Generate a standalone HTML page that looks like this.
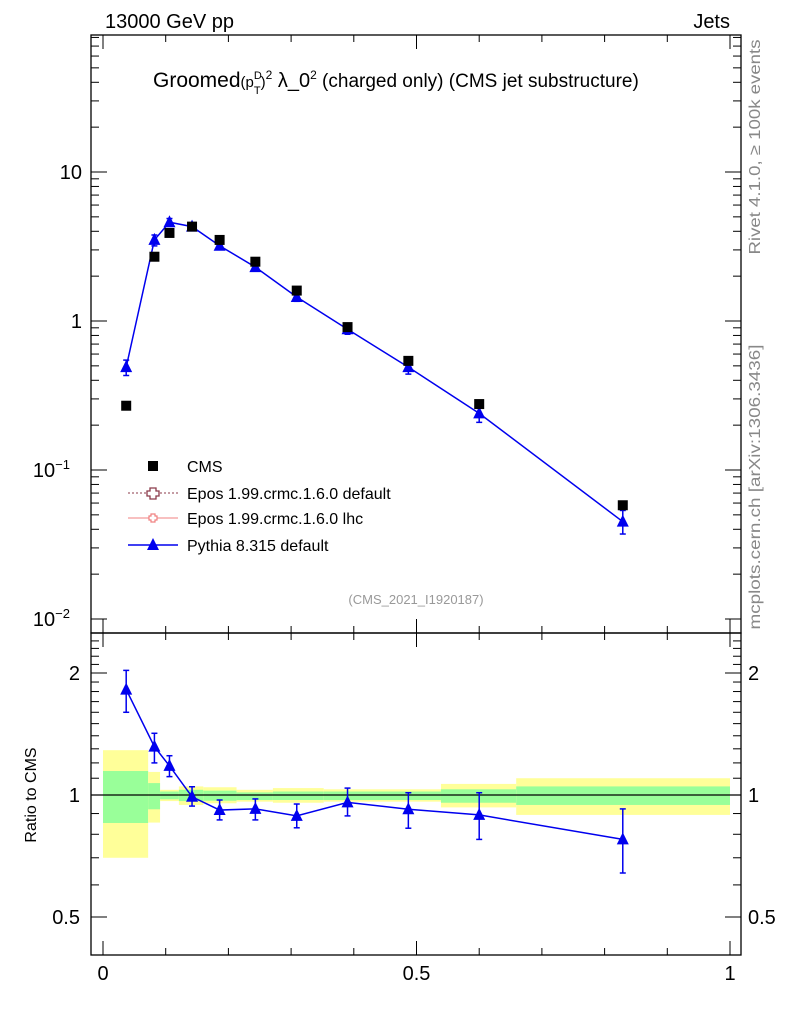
<!DOCTYPE html>
<html><head><meta charset="utf-8"><style>
html,body{margin:0;padding:0;background:#fff;}
svg{display:block;font-family:"Liberation Sans",sans-serif;}
</style></head><body>
<svg id="c" width="786" height="1024" viewBox="0 0 786 1024">
<text x="105" y="28" font-size="20">13000 GeV pp</text>
<text x="730" y="28" font-size="20" text-anchor="end">Jets</text>
<text x="153" y="87" font-size="21">Groomed<tspan font-size="15">(p</tspan><tspan font-size="11" dy="-8">D</tspan><tspan font-size="11" dx="-8" dy="15">T</tspan><tspan font-size="15" dy="-7">)</tspan><tspan font-size="12" dy="-8">2</tspan><tspan font-size="20" dy="8"> λ_0</tspan><tspan font-size="12" dy="-8">2</tspan><tspan font-size="19" dy="8">  (charged only) (CMS jet substructure)</tspan></text>
<text transform="translate(760,147) rotate(-90)" font-size="16" fill="#888" text-anchor="middle" textLength="215" lengthAdjust="spacingAndGlyphs">Rivet 4.1.0, ≥ 100k events</text>
<text transform="translate(760,487) rotate(-90)" font-size="16" fill="#888" text-anchor="middle" textLength="285" lengthAdjust="spacingAndGlyphs">mcplots.cern.ch [arXiv:1306.3436]</text>
<text x="416" y="604" font-size="13" fill="#999" text-anchor="middle">(CMS_2021_I1920187)</text>
<text transform="translate(36,795) rotate(-90)" font-size="16" text-anchor="middle">Ratio to CMS</text>
<g id="bands"></g><g id="axes"></g><g id="marks"></g><g id="legend"></g>
</svg>
<script>
const xs=[0.037,0.082,0.106,0.142,0.186,0.243,0.309,0.39,0.487,0.6,0.829];
const cmsVals=[0.27,2.7,3.9,4.3,3.5,2.5,1.6,0.91,0.54,0.277,0.058];
const pyVals=[0.49,3.5,4.6,4.3,3.2,2.3,1.45,0.88,0.49,0.24,0.045];
const pyRatio=[1.82,1.316,1.18,0.99,0.918,0.924,0.888,0.959,0.922,0.893,0.777];
const pyRatioHi=[2.03,1.42,1.25,1.048,0.972,0.978,0.95,1.04,1.013,1.013,0.924];
const pyRatioLo=[1.6,1.2,1.11,0.939,0.868,0.868,0.83,0.888,0.828,0.777,0.642];
const binEdges=[0,0.072,0.091,0.121,0.16,0.213,0.271,0.352,0.539,0.659,1.0];
const yelHi=[1.29,1.14,1.03,1.05,1.045,1.03,1.04,1.033,1.065,1.10];
const yelLo=[0.70,0.855,0.966,0.945,0.954,0.963,0.957,0.963,0.932,0.893];
const grnHi=[1.146,1.07,1.02,1.03,1.025,1.015,1.02,1.02,1.033,1.05];
const grnLo=[0.853,0.922,0.976,0.966,0.968,0.972,0.972,0.972,0.957,0.945];
const xTicks=[0,0.5,1];const xTickLabels=["0","0.5","1"];
const mainTicks=[10,1,0.1,0.01];
const ratioTicks=[2,1,0.5];const ratioTickLabels=["2","1","0.5"];

const NS="http://www.w3.org/2000/svg";
const L=91,R=741,T=35,M=633,B=955;
const X=v=>103+627*v;
const Y=v=>321-149*Math.log10(v);
const RY=v=>795-122/Math.log10(2)*Math.log10(v);
function mk(p,tag,at,txt){const e=document.createElementNS(NS,tag);for(const k in at)e.setAttribute(k,at[k]);if(txt!==undefined)e.textContent=txt;document.getElementById(p).appendChild(e);return e;}

for(let i=0;i<yelHi.length;i++){
 let e=mk('bands','rect',{x:X(binEdges[i]),y:RY(yelHi[i]),width:X(binEdges[i+1])-X(binEdges[i]),height:RY(yelLo[i])-RY(yelHi[i]),fill:'#ffff99'});
 
 
 e=mk('bands','rect',{x:X(binEdges[i]),y:RY(grnHi[i]),width:X(binEdges[i+1])-X(binEdges[i]),height:RY(grnLo[i])-RY(grnHi[i]),fill:'#99ff99'});
 
 
}
let f=mk('axes','rect',{x:L,y:T,width:R-L,height:M-T,fill:'none',stroke:'#000','stroke-width':1.3});


f=mk('axes','rect',{x:L,y:M,width:R-L,height:B-M,fill:'none',stroke:'#000','stroke-width':1.3});


let ul=mk('axes','line',{x1:L,x2:R,y1:RY(1),y2:RY(1),stroke:'#000','stroke-width':1.3});


for(let v=0;v<=1.0001;v+=0.1){
 const maj=Math.abs(v*2-Math.round(v*2))<1e-6, len=maj?14:7, x=X(v);
 for(const [y0,d] of [[T,1],[M,-1],[M,1],[B,-1]]) mk('axes','line',{x1:x,x2:x,y1:y0,y2:y0+d*len,stroke:'#000'});
}
for(let i=0;i<xTicks.length;i++){const t=mk('axes','text',{x:X(xTicks[i]),y:980,'font-size':20,'text-anchor':'middle'},xTickLabels[i]);
 
 }
for(let d=-2;d<=1;d++)for(let k=1;k<10;k++){const v=k*Math.pow(10,d),y=Y(v);if(y<T||y>M)continue;const len=k==1?16:8;
 mk('axes','line',{x1:L,x2:L+len,y1:y,y2:y,stroke:'#000'});mk('axes','line',{x1:R,x2:R-len,y1:y,y2:y,stroke:'#000'});}
const mlab=["10","1","10<tspan font-size='13' dy='-8'>−1</tspan>","10<tspan font-size='13' dy='-8'>−2</tspan>"];
for(let i=0;i<mainTicks.length;i++){const t=mk('axes','text',{x:i<2?82:70,y:Y(mainTicks[i])+7,'font-size':20,'text-anchor':'end'});t.innerHTML=mlab[i];
 
 }
for(let v=0.5;v<=2.5;v+=0.1){const y=RY(v);if(y<M||y>B)continue;const maj=[0.5,1,2].some(m=>Math.abs(m-v)<1e-6),len=maj?16:8;
 mk('axes','line',{x1:L,x2:L+len,y1:y,y2:y,stroke:'#000'});mk('axes','line',{x1:R,x2:R-len,y1:y,y2:y,stroke:'#000'});}
for(let i=0;i<ratioTicks.length;i++){for(const [x,a] of [[80,'end'],[748,'start']]){const t=mk('axes','text',{x:x,y:RY(ratioTicks[i])+7,'font-size':20,'text-anchor':a},ratioTickLabels[i]);
 
 }}
function tri(p,x,y,name){const e=mk(p,'polygon',{points:`${x},${y-7} ${x-6},${y+5} ${x+6},${y+5}`,fill:'#0000ee'});
 
 }
mk('marks','polyline',{points:xs.map((x,i)=>X(x)+','+Y(pyVals[i])).join(' '),fill:'none',stroke:'#0000ee','stroke-width':1.5});
mk('marks','polyline',{points:xs.map((x,i)=>X(x)+','+RY(pyRatio[i])).join(' '),fill:'none',stroke:'#0000ee','stroke-width':1.5});
for(let i=0;i<xs.length;i++){const x=X(xs[i]);
 const hi=pyVals[i]*pyRatioHi[i]/pyRatio[i],lo=pyVals[i]*pyRatioLo[i]/pyRatio[i];
 for(const [a,b] of [[Y(hi),Y(lo)],[RY(pyRatioHi[i]),RY(pyRatioLo[i])]]){
  mk('marks','line',{x1:x,x2:x,y1:a,y2:b,stroke:'#0000ee','stroke-width':1.5});
  mk('marks','line',{x1:x-3,x2:x+3,y1:a,y2:a,stroke:'#0000ee','stroke-width':1.5});
  mk('marks','line',{x1:x-3,x2:x+3,y1:b,y2:b,stroke:'#0000ee','stroke-width':1.5});}
 tri('marks',x,Y(pyVals[i]),'pythia-point');
 tri('marks',x,RY(pyRatio[i]),'pythia-ratio-point');
 const s=mk('marks','rect',{x:x-5,y:Y(cmsVals[i])-5,width:10,height:10,fill:'#000'});
 
 
}
const lg=[["CMS",466],["Epos 1.99.crmc.1.6.0 default",493],["Epos 1.99.crmc.1.6.0 lhc",518],["Pythia 8.315 default",545]];
for(const [t,y] of lg){const e=mk('legend','text',{x:187,y:y+6,'font-size':16},t);
 
 }
mk('legend','rect',{x:148,y:461,width:10,height:10,fill:'#000'});
mk('legend','line',{x1:128,x2:178,y1:493,y2:493,stroke:'#8b3a4a','stroke-dasharray':'2,2'});
mk('legend','path',{d:'M150,488h6v3h3v5h-3v3h-6v-3h-3v-5h3z',fill:'#fff',stroke:'#8b3a4a','stroke-width':1.3});
mk('legend','line',{x1:128,x2:178,y1:518,y2:518,stroke:'#f08080'});
mk('legend','path',{d:'M151,514h4v2h2v4h-2v2h-4v-2h-2v-4h2z',fill:'#fff',stroke:'#f08080','stroke-width':1.2});
mk('legend','line',{x1:128,x2:178,y1:545,y2:545,stroke:'#0000ee','stroke-width':1.5});
tri('legend',153,545,'legend-pythia-marker');
</script>
</body></html>
